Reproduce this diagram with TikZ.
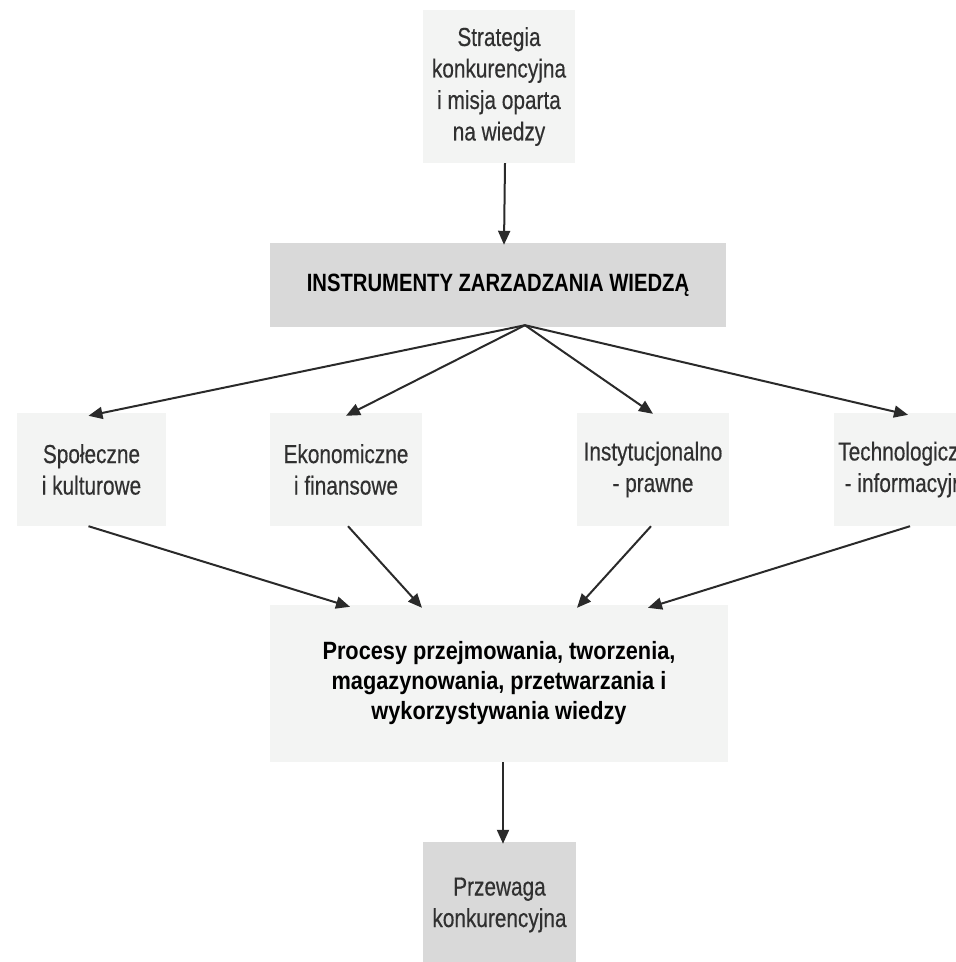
\documentclass[tikz,border=0pt]{standalone}
\usepackage{fontspec}
\setmainfont{Liberation Sans}[FakeStretch=0.8,FakeBold=0.4]
\newfontfamily\headfont{Liberation Sans}[FakeStretch=0.81]
\newfontfamily\procfont{Liberation Sans}[FakeStretch=0.87]
\usetikzlibrary{arrows.meta}
\definecolor{boxlight}{HTML}{F3F4F3}
\definecolor{boxdark}{HTML}{D9D9D9}
\definecolor{ink}{HTML}{303030}
\definecolor{wire}{HTML}{2A2A2A}
\begin{document}
\begin{tikzpicture}[x=1pt,y=-1pt,
  plain/.style={fill=boxlight, draw=none, inner sep=0pt, align=center, text=ink,
    font=\fontsize{26}{31.5}\selectfont},
  level/.style={plain, minimum width=152pt, minimum height=113pt},
  shaded/.style={fill=boxdark, draw=none, inner sep=0pt, align=center},
  link/.style={draw=wire, line width=2pt, -{Triangle[length=14pt,width=12pt]}}]
\useasboundingbox (0,0) rectangle (956,962);
\clip (0,0) rectangle (956,962);

% strategy box at the top
\node[plain, minimum width=152pt, minimum height=153pt] (strat) at (499,86.5)
  {Strategia\\konkurencyjna\\i misja oparta\\na wiedzy};

% central instruments box
\node[shaded, minimum width=456pt, minimum height=84pt,
  font={\headfont\bfseries\fontsize{25}{30}\selectfont}, text=black] (instr) at (498,285)
  {INSTRUMENTY ZARZADZANIA WIEDZĄ};

% four groups of instruments
\node[level, minimum width=149pt] (spol) at (91.5,469.5) {Społeczne\\i kulturowe};
\node[level] (ekon) at (346,469.5) {Ekonomiczne\\i finansowe};
\node[level] (inst) at (653,469.5) {Instytucjonalno\\- prawne};
\node[level] (tech) at (910,469.5) {Technologiczne\\- informacyjne};

% knowledge processes
\node[plain, minimum width=458pt, minimum height=157pt, text=black,
  font={\procfont\bfseries\fontsize{25}{30}\selectfont}] (proc) at (499,683.5)
  {Procesy przejmowania, tworzenia,\\magazynowania, przetwarzania i\\wykorzystywania wiedzy};

% outcome
\node[shaded, minimum width=153pt, minimum height=126pt, text=ink,
  font=\fontsize{26}{31.5}\selectfont] (adv) at (499.5,905)
  {Przewaga\\konkurencyjna};

% connectors
\draw[link] ([xshift=6pt]strat.south) -- ([xshift=6pt,yshift=-2pt]instr.north);

\coordinate (fan) at ([xshift=27pt,yshift=2pt]instr.south);
\draw[link] (fan) -- ([xshift=-3pt,yshift=-3pt]spol.north);
\draw[link] (fan) -- ([yshift=-3pt]ekon.north);
\draw[link] (fan) -- ([yshift=-1pt]inst.north);
\draw[link] (fan) -- ([xshift=-2pt,yshift=-2pt]tech.north);

\draw[link] ([xshift=-3pt]spol.south) -- ([xshift=-149pt,yshift=-2pt]proc.north);
\draw[link] ([xshift=2pt]ekon.south) -- ([xshift=-77pt,yshift=-3pt]proc.north);
\draw[link] ([xshift=-2pt]inst.south) -- ([xshift=78pt,yshift=-3pt]proc.north);
\draw[link] (tech.south) -- ([xshift=149pt,yshift=-3pt]proc.north);

\draw[link] ([xshift=4pt]proc.south) -- ([xshift=3.5pt,yshift=-2pt]adv.north);
\end{tikzpicture}
\end{document}
